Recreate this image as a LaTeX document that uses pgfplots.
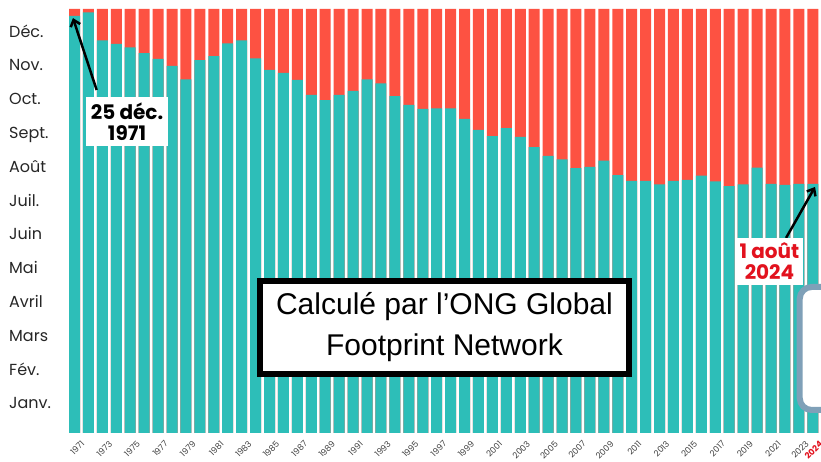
\documentclass[border=0pt]{standalone}
\usepackage{pgfplots}
\pgfplotsset{compat=1.18}
\usepackage{pgfplotstable}
\usepackage{fontspec}
\setmainfont{Poppins}
\newfontfamily\calcfont{Liberation Sans}
\usetikzlibrary{arrows.meta}
\definecolor{teal1}{RGB}{45,190,184}
\definecolor{red1}{RGB}{253,82,66}
\definecolor{redtxt}{RGB}{226,18,30}
\definecolor{boxblue}{RGB}{127,160,184}

\pgfplotstableread{
year day full
1971 359 365
1972 362 365
1973 338 365
1974 335 365
1975 332 365
1976 327 365
1977 322 365
1978 316 365
1979 304.5 365
1980 321 365
1981 324.5 365
1982 335.5 365
1983 338 365
1984 322.5 365
1985 312.5 365
1986 310 365
1987 304 365
1988 291 365
1989 286.5 365
1990 291 365
1991 294.5 365
1992 304.5 365
1993 301 365
1994 290 365
1995 282.5 365
1996 279 365
1997 279.5 365
1998 279.5 365
1999 270.5 365
2000 261 365
2001 255.5 365
2002 262.5 365
2003 255 365
2004 246 365
2005 238.5 365
2006 235.5 365
2007 228 365
2008 229 365
2009 234.5 365
2010 222 365
2011 217 365
2012 217 365
2013 214 365
2014 217 365
2015 218 365
2016 221.5 365
2017 216.5 365
2018 212.5 365
2019 214 365
2020 228.5 365
2021 214.5 365
2022 213.5 365
2023 214.5 365
2024 214.5 365
}\overshoot

\begin{document}
\begin{tikzpicture}
\path[use as bounding box] (0,0) rectangle (821pt,462pt);
\begin{axis}[
  at={(69pt,29pt)}, anchor=south west,
  scale only axis, width=752pt, height=424pt,
  xmin=1970.605, xmax=2024.59, ymin=0, ymax=365,
  axis line style={draw=none},
  major tick length=0pt,
  clip=false,
  xtick={1971,1973,...,2023,2024},
  xticklabels={1971,1973,1975,1977,1979,1981,1983,1985,1987,1989,1991,1993,1995,1997,1999,2001,2003,2005,2007,2009,2011,2013,2015,2017,2019,2021,2023,{\color{redtxt}\bfseries 2024}},
  xticklabel style={rotate=45, anchor=north east, font=\fontsize{8.5}{8.5}\selectfont, text=black!75, inner sep=0pt, xshift=-0.7pt, yshift=-9.2pt},
  ytick={26.1,55.2,84.3,113.4,142.5,171.6,200.7,229.8,258.9,288.0,317.1,346.2},
  yticklabels={Janv.,Fév.,Mars,Avril,Mai,Juin,Juil.,Août,Sept.,Oct.,Nov.,Déc.},
  yticklabel style={anchor=mid west, xshift=-60pt, yshift=-3.5pt, inner sep=0pt, font=\fontsize{16}{16}\selectfont, text=black!85},
]
\addplot[ybar, bar width=11pt, bar shift=0pt, fill=red1, draw=none] table[x=year, y=full] {\overshoot};
\addplot[ybar, bar width=11pt, bar shift=0pt, fill=teal1, draw=none] table[x=year, y=day] {\overshoot};

\draw[line width=2.5pt, -{Straight Barb[length=6pt,width=10pt]}] (axis cs:1972.59,295.3) -- (axis cs:1970.89,357.2);
\node[fill=white, align=center, font=\fontsize{20}{21}\selectfont\bfseries, minimum width=82pt, minimum height=49pt, inner sep=0pt] at (axis cs:1974.77,268.1) {25 déc.\\1971};

\draw[line width=2.5pt, -{Straight Barb[length=6pt,width=10pt]}] (axis cs:2022.08,167.9) -- (axis cs:2024.16,211.8);
\node[fill=white, text=redtxt, align=center, font=\fontsize{20}{21}\selectfont\bfseries, minimum width=67pt, minimum height=47pt, inner sep=0pt] at (axis cs:2020.89,147.6) {1 août\\2024};

\node[draw=black, line width=6pt, fill=white, minimum width=369pt, minimum height=93pt, align=center, inner sep=0pt, font=\calcfont\fontsize{30}{41}\selectfont] at (axis cs:1997.56,90.8) {Calculé par l’ONG Global\\Footprint Network};

\draw[boxblue, line width=6pt, fill=white, rounded corners=12pt] (axis cs:2023.06,125.7) rectangle (axis cs:2028.8,19.8);
\end{axis}
\end{tikzpicture}
\end{document}
